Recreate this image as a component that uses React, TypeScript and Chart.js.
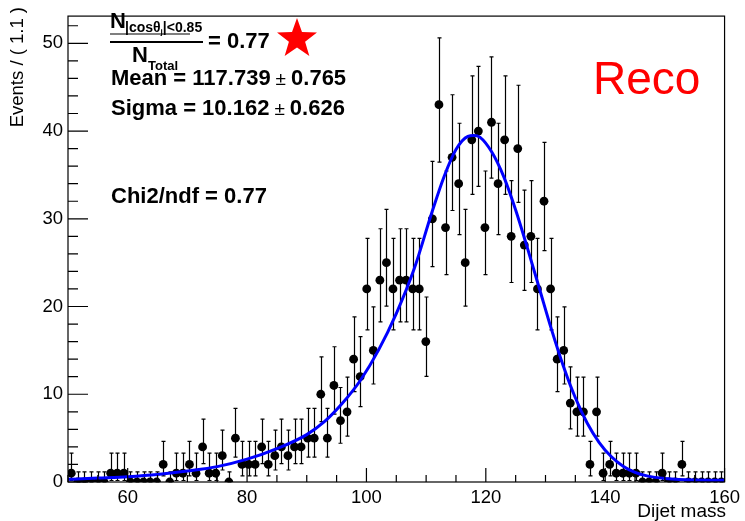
import React, { useEffect, useRef } from "react";
import { Chart, registerables } from "chart.js";

Chart.register(...registerables);

// Histogram binning: 100 bins of width 1.1 starting at 50
const BIN_LOW = 50;
const BIN_WIDTH = 1.1;

// Events per bin
const counts = [
  1, 0, 0, 0, 0, 0, 1, 1, 1, 0,
  0, 0, 0, 0, 2, 0, 1, 1, 2, 1,
  4, 1, 1, 3, 0, 5, 2, 2, 2, 4,
  2, 3, 4, 3, 4, 4, 5, 5, 10, 5,
  11, 7, 8, 14, 12, 22, 15, 23, 25, 22,
  23, 23, 22, 22, 16, 30, 43, 29, 37, 34,
  25, 39, 40, 29, 41, 34, 39, 28, 38, 27,
  28, 22, 32, 22, 14, 15, 9, 8, 8, 2,
  8, 1, 2, 1, 1, 1, 1, 0, 0, 0,
  1, 0, 0, 2, 0, 0, 0, 0, 0, 0,
];

// Fit curve samples
const fitX = [50, 55, 60, 65, 70, 75, 80, 85, 90, 93, 96, 99, 102, 105, 108, 111, 113, 115, 117, 118, 119, 121, 123, 125, 127, 129, 131, 133, 135, 137, 139, 141, 143, 145, 147, 150, 155, 160];
const fitY = [0.3, 0.45, 0.6, 0.85, 1.25, 1.75, 2.6, 3.8, 5.4, 6.9, 9.0, 11.6, 15.0, 19.2, 24.3, 30.8, 34.8, 37.9, 39.4, 39.5, 39.3, 37.6, 34.8, 31.0, 26.6, 22.0, 17.4, 13.2, 9.6, 6.7, 4.5, 2.9, 1.8, 1.1, 0.7, 0.4, 0.22, 0.2];

// Axis ticks
const xMajor = [60, 80, 100, 120, 140, 160];
const xMinorStep = 5;
const yMajor = [0, 10, 20, 30, 40, 50];
const yMinorStep = 2;
const X_MIN = 50;
const X_MAX = 160;
const Y_MAX = 53.1;

const FONT = '"Liberation Sans", Arial, Helvetica, sans-serif';

function binCenter(i: number) {
  return BIN_LOW + BIN_WIDTH * (i + 0.5);
}

function poissonCdf(n: number, mu: number) {
  let term = Math.exp(-mu);
  let sum = term;
  for (let k = 1; k <= n; k++) {
    term *= mu / k;
    sum += term;
  }
  return sum;
}

// Garwood (RooFit-like) 68% interval: returns [errLow, errHigh]
function poissonErrors(n: number): [number, number] {
  if (n === 0) return [0, 1.148];
  const a = 0.158655;
  let lo = n, hi = n + 10 * Math.sqrt(n) + 10;
  for (let it = 0; it < 80; it++) {
    const mid = (lo + hi) / 2;
    if (poissonCdf(n, mid) > a) lo = mid; else hi = mid;
  }
  const up = (lo + hi) / 2;
  lo = 0; hi = n;
  for (let it = 0; it < 80; it++) {
    const mid = (lo + hi) / 2;
    if (poissonCdf(n - 1, mid) > 1 - a) lo = mid; else hi = mid;
  }
  const low = (lo + hi) / 2;
  return [n - low, up - n];
}

function drawStar(ctx: CanvasRenderingContext2D, cx: number, cy: number, R: number, r: number) {
  ctx.beginPath();
  for (let k = 0; k < 10; k++) {
    const ang = -Math.PI / 2 + (k * Math.PI) / 5;
    const rad = k % 2 === 0 ? R : r;
    const px = cx + rad * Math.cos(ang);
    const py = cy + rad * Math.sin(ang);
    if (k === 0) ctx.moveTo(px, py); else ctx.lineTo(px, py);
  }
  ctx.closePath();
  ctx.fill();
}

const decorPlugin = {
  id: "rootDecor",
  beforeDatasetsDraw(chart: any) {
    const { ctx, scales } = chart;
    const x = scales.x, y = scales.y;
    ctx.save();
    ctx.strokeStyle = "#000";
    ctx.lineWidth = 1.2;
    counts.forEach((n, i) => {
      const [el, eh] = poissonErrors(n);
      const px = Math.round(x.getPixelForValue(binCenter(i))) + 0.5;
      const y1 = y.getPixelForValue(n - el);
      const y2 = y.getPixelForValue(n + eh);
      ctx.beginPath();
      ctx.moveTo(px, y1);
      ctx.lineTo(px, y2);
      ctx.moveTo(px - 2, y1);
      ctx.lineTo(px + 2, y1);
      ctx.moveTo(px - 2, y2);
      ctx.lineTo(px + 2, y2);
      ctx.stroke();
    });
    ctx.restore();
  },
  afterDraw(chart: any) {
    const { ctx, chartArea, scales } = chart;
    const x = scales.x, y = scales.y;
    const { left, right, top, bottom } = chartArea;
    ctx.save();
    // frame
    ctx.strokeStyle = "#000";
    ctx.lineWidth = 1.2;
    ctx.strokeRect(left, top, right - left, bottom - top);
    // ticks (inside the frame)
    ctx.beginPath();
    for (let v = X_MIN; v <= X_MAX + 1e-9; v += xMinorStep) {
      const px = x.getPixelForValue(v);
      const len = xMajor.includes(v) ? 14 : 7;
      ctx.moveTo(px, bottom);
      ctx.lineTo(px, bottom - len);
    }
    for (let v = 0; v <= Y_MAX + 1e-9; v += yMinorStep) {
      const py = y.getPixelForValue(v);
      const len = yMajor.includes(v) ? 20 : 10;
      ctx.moveTo(left, py);
      ctx.lineTo(left + len, py);
    }
    ctx.stroke();

    // axis titles
    ctx.fillStyle = "#000";
    ctx.font = `19px ${FONT}`;
    ctx.textAlign = "right";
    ctx.textBaseline = "alphabetic";
    ctx.fillText("Dijet mass", 726, 517);
    ctx.save();
    ctx.translate(23, 7);
    ctx.rotate(-Math.PI / 2);
    ctx.textAlign = "right";
    ctx.font = `18.5px ${FONT}`;
    ctx.fillText("Events / ( 1.1 )", 0, 0);
    ctx.restore();

    // fraction text
    ctx.textAlign = "left";
    ctx.font = `bold 22px ${FONT}`;
    ctx.fillText("N", 110, 28);
    ctx.font = `bold 14px ${FONT}`;
    let cx = 125;
    ctx.fillText("|cos\u03B8", cx, 31.5);
    cx += ctx.measureText("|cos\u03B8").width;
    ctx.font = `bold 8px ${FONT}`;
    ctx.fillText("j", cx, 34);
    cx += ctx.measureText("j").width;
    ctx.font = `bold 14px ${FONT}`;
    ctx.fillText("|<0.85", cx, 31.5);
    ctx.fillRect(110, 33.5, 80, 1);
    ctx.fillRect(110, 41, 93, 2);
    ctx.font = `bold 22px ${FONT}`;
    ctx.fillText("N", 132, 62);
    ctx.font = `bold 13px ${FONT}`;
    ctx.fillText("Total", 148, 70);
    ctx.font = `bold 22px ${FONT}`;
    ctx.fillText("= 0.77", 208, 48);

    ctx.fillStyle = "#ff0000";
    drawStar(ctx, 297, 39, 21, 8.5);

    ctx.fillStyle = "#000";
    const drawStat = (a: string, b: string, yy: number) => {
      ctx.font = `bold 22px ${FONT}`;
      let xx = 111;
      ctx.fillText(a, xx, yy);
      xx += ctx.measureText(a).width + 5;
      ctx.font = `19px ${FONT}`;
      ctx.fillText("\u00B1", xx, yy);
      xx += ctx.measureText("\u00B1").width + 5;
      ctx.font = `bold 22px ${FONT}`;
      ctx.fillText(b, xx, yy);
    };
    drawStat("Mean = 117.739", "0.765", 85);
    drawStat("Sigma = 10.162", "0.626", 115);
    ctx.font = `bold 22px ${FONT}`;
    ctx.fillText("Chi2/ndf = 0.77", 111, 203);

    ctx.fillStyle = "#ff0000";
    ctx.font = `46px ${FONT}`;
    ctx.fillText("Reco", 593, 94);
    ctx.restore();
  },
};

export default function App() {
  const canvasRef = useRef<HTMLCanvasElement | null>(null);

  useEffect(() => {
    const canvas = canvasRef.current;
    if (!canvas) return;
    const points = counts.map((n, i) => ({ x: binCenter(i), y: n }));
    const curve = fitX.map((v, i) => ({ x: v, y: fitY[i] }));
    const chart = new Chart(canvas, {
      type: "scatter",
      data: {
        datasets: [
          {
            type: "line",
            data: curve,
            borderColor: "#0000ff",
            borderWidth: 3,
            pointRadius: 0,
            cubicInterpolationMode: "monotone",
            fill: false,
          } as any,
          {
            type: "scatter",
            data: points,
            backgroundColor: "#000",
            borderWidth: 0,
            pointRadius: 4.4,
          } as any,
        ],
      },
      options: {
        animation: false,
        responsive: false,
        devicePixelRatio: 1,
        events: [],
        layout: { padding: { left: 0, right: 17, top: 9, bottom: 0 } },
        plugins: { legend: { display: false }, tooltip: { enabled: false } },
        scales: {
          x: {
            type: "linear",
            min: X_MIN,
            max: X_MAX,
            grid: { display: false, drawTicks: false },
            border: { display: false },
            afterBuildTicks: (s: any) => {
              s.ticks = xMajor.map((v) => ({ value: v }));
            },
            afterFit: (s: any) => {
              s.height = 39;
            },
            ticks: {
              color: "#000",
              font: { family: FONT, size: 18.5 },
              padding: 5,
              maxRotation: 0,
              autoSkip: false,
            },
          },
          y: {
            type: "linear",
            min: 0,
            max: Y_MAX,
            grid: { display: false, drawTicks: false },
            border: { display: false },
            afterBuildTicks: (s: any) => {
              s.ticks = yMajor.map((v) => ({ value: v }));
            },
            afterFit: (s: any) => {
              s.width = 68;
            },
            ticks: {
              color: "#000",
              font: { family: FONT, size: 18.5 },
              padding: 5,
              autoSkip: false,
            },
          },
        },
      },
      plugins: [decorPlugin],
    } as any);
    return () => chart.destroy();
  }, []);

  return (
    <div style={{ position: "absolute", left: 0, top: 0, width: 745, height: 521, background: "#fff" }}>
      <canvas ref={canvasRef} width={745} height={521} style={{ width: 745, height: 521, display: "block" }} />
    </div>
  );
}
